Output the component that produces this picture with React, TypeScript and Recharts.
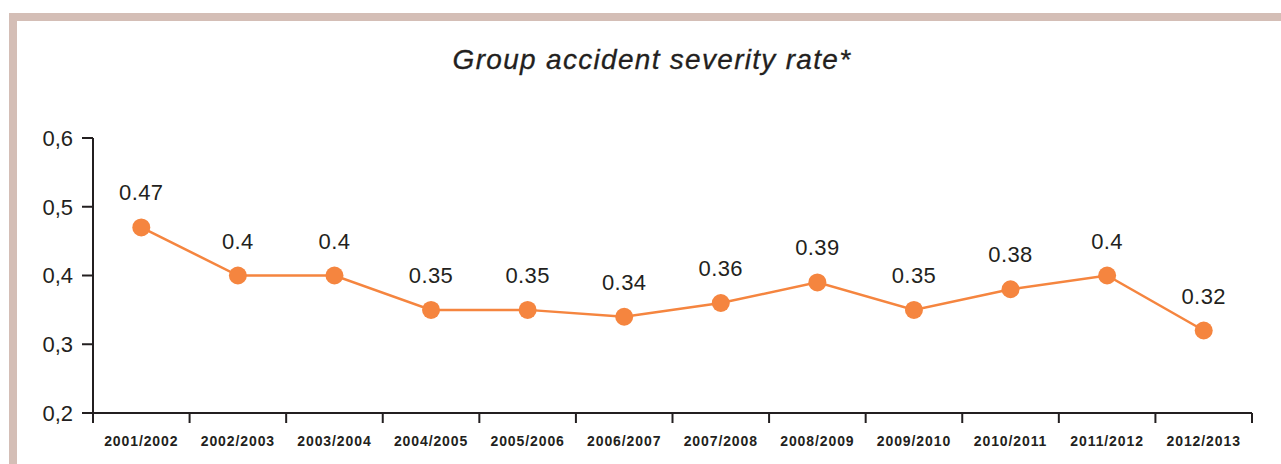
import React from 'react';
import { ComposedChart, Line, XAxis, YAxis, LabelList } from 'recharts';

const seasons = [
  '2001/2002', '2002/2003', '2003/2004', '2004/2005', '2005/2006', '2006/2007',
  '2007/2008', '2008/2009', '2009/2010', '2010/2011', '2011/2012', '2012/2013',
];
const severityRate = [0.47, 0.4, 0.4, 0.35, 0.35, 0.34, 0.36, 0.39, 0.35, 0.38, 0.4, 0.32];
const yTicks = [0.2, 0.3, 0.4, 0.5, 0.6];

const INK = '#231f20';
const ORANGE = '#f5853f';
const FRAME = '#d4beb6';
const FONT = '"Liberation Sans", Arial, Helvetica, sans-serif';

const CHART_W = 1281;
const CHART_H = 464;
const MARGIN = { top: 138, right: 29, bottom: 21, left: 33 };

// tick marks sit on the band edges, labels in the middle of each band
function SeasonTick(props: any) {
  const { x, y, payload, index, visibleTicksCount } = props;
  const half =
    payload && typeof payload.offset === 'number'
      ? payload.offset
      : (CHART_W - MARGIN.left - 60 - MARGIN.right) / seasons.length / 2;
  const last = index === visibleTicksCount - 1;
  return (
    <g>
      <line x1={x - half} x2={x - half} y1={y} y2={y + 10} stroke={INK} strokeWidth={2} />
      {last && <line x1={x + half} x2={x + half} y1={y} y2={y + 10} stroke={INK} strokeWidth={2} />}
      <text
        x={x}
        y={y + 33}
        textAnchor="middle"
        fill={INK}
        fontSize={14}
        fontWeight={700}
        fontFamily={FONT}
        letterSpacing={0.9}
      >
        {payload.value}
      </text>
    </g>
  );
}

export default function App() {
  const data = seasons.map((s, i) => ({ season: s, rate: severityRate[i] }));

  return (
    <div style={{ position: 'absolute', left: 0, top: 0, width: CHART_W, height: CHART_H, background: '#fff', fontFamily: FONT }}>
      <div
        style={{
          position: 'absolute',
          left: 9,
          top: 13,
          right: 0,
          bottom: 0,
          borderTop: `8px solid ${FRAME}`,
          borderLeft: `8px solid ${FRAME}`,
        }}
      />
      <div
        style={{
          position: 'absolute',
          left: 652,
          top: 43,
          transform: 'translateX(-50%)',
          whiteSpace: 'nowrap',
          fontSize: 28,
          fontStyle: 'italic',
          letterSpacing: 1.3,
          color: INK,
          lineHeight: '34px',
          WebkitTextStroke: `0.3px ${INK}`,
        }}
      >
        Group accident severity rate*
      </div>
      <div style={{ position: 'absolute', left: 0, top: 0 }}>
        <ComposedChart width={CHART_W} height={CHART_H} data={data} margin={MARGIN}>
          <XAxis
            dataKey="season"
            scale="band"
            height={30}
            axisLine={{ stroke: INK, strokeWidth: 2 }}
            tickLine={false}
            tickSize={0}
            tickMargin={0}
            interval={0}
            tick={<SeasonTick />}
          />
          <YAxis
            width={60}
            domain={[0.2, 0.6]}
            ticks={yTicks}
            allowDataOverflow
            axisLine={{ stroke: INK, strokeWidth: 2 }}
            tickLine={{ stroke: INK, strokeWidth: 2 }}
            tickSize={11}
            tickMargin={9}
            tick={{ fill: INK, fontSize: 22, fontFamily: FONT }}
            tickFormatter={(v: number) => v.toFixed(1).replace('.', ',')}
          />
          <Line
            dataKey="rate"
            type="linear"
            stroke={ORANGE}
            strokeWidth={2.5}
            dot={{ r: 9, fill: ORANGE, stroke: 'none' }}
            activeDot={false}
            isAnimationActive={false}
          >
            <LabelList
              dataKey="rate"
              position="top"
              offset={27}
              fill={INK}
              fontSize={22}
              fontFamily={FONT}
              letterSpacing={0.4}
            />
          </Line>
        </ComposedChart>
      </div>
    </div>
  );
}
